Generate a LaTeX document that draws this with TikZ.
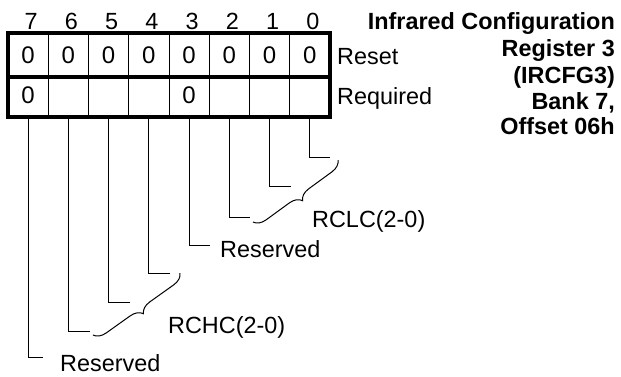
\documentclass[tikz,border=0pt]{standalone}
\usepackage{fontspec}
\setmainfont{Liberation Sans}
\usetikzlibrary{decorations.pathreplacing}
\begin{document}
\begin{tikzpicture}[x=1pt,y=-1pt,
  lbl/.style={font=\fontsize{23.4}{26}\selectfont, inner sep=0pt, anchor=base west},
  ttl/.style={font=\fontsize{23.4}{26}\selectfont\bfseries, inner sep=0pt, anchor=base east},
  bitnum/.style={font=\fontsize{23.4}{26}\selectfont, inner sep=0pt, anchor=base},
  cellbox/.style={minimum width=40.25pt, inner sep=0pt, outer sep=0pt, draw, line width=1pt, font=\fontsize{24}{26}\selectfont},
  toprow/.style={cellbox, minimum height=44pt},
  botrow/.style={cellbox, minimum height=40pt},
  thick border/.style={line width=3.5pt},
  lead/.style={line width=1pt},
  brc/.style={decorate, decoration={brace, amplitude=12pt}, line width=1pt}
]
\useasboundingbox (0,0) rectangle (621,376);
% cells
\foreach \i in {0,...,7}{
  \pgfmathsetmacro{\xc}{28.125+40.25*(7-\i)}
  \node[toprow] (t\i) at (\xc,55) {0};
  \node[bitnum] (n\i) at (\xc+3,29.5) {\i};
}
\node[botrow] (b7) at (28.125,97) {\raisebox{3pt}{0}};
\node[botrow] (b6) at (68.375,97) {};
\node[botrow] (b5) at (108.625,97) {};
\node[botrow] (b4) at (148.875,97) {};
\node[botrow] (b3) at (189.125,97) {\raisebox{3pt}{0}};
\node[botrow] (b2) at (229.375,97) {};
\node[botrow] (b1) at (269.625,97) {};
\node[botrow] (b0) at (309.875,97) {};
\draw[thick border] (t7.north west) rectangle (b0.south east);
\draw[thick border] (t7.south west) -- (t0.south east);
% row labels
\node[lbl] (reset) at (337,64.5) {Reset};
\node[lbl] (req) at (337,104.5) {Required};
% title
\node[ttl] (ttl1) at (615,29) {Infrared Configuration};
\node[ttl] (ttl2) at (615,56) {Register 3};
\node[ttl] (ttl3) at (615,83) {(IRCFG3)};
\node[ttl] (ttl4) at (615,109) {Bank 7,};
\node[ttl] (ttl5) at (615,134) {Offset 06h};
% leader ends
\coordinate (e0) at (330,157);
\coordinate (e1) at (291,186);
\coordinate (e2) at (250,217);
\coordinate (e3) at (210,245);
\coordinate (e4) at (170,273);
\coordinate (e5) at (130,302);
\coordinate (e6) at (90,331);
\coordinate (e7) at (43,357);
\foreach \i in {0,...,7}{ \draw[lead] (b\i.south) |- (e\i); }
% braces
\coordinate (lcA) at (253,222);
\coordinate (lcB) at (338,160);
\coordinate (hcA) at (93,335);
\coordinate (hcB) at (180,273);
\draw[brc] (lcB) -- (lcA);
\draw[brc] (hcB) -- (hcA);
% field labels
\node[lbl] (res3) at (220,257) {Reserved};
\node[lbl] (rclc) at (312,227) {RCLC(2-0)};
\node[lbl] (rchc) at (168,333) {RCHC(2-0)};
\node[lbl] (res7) at (60,371) {Reserved};
\end{tikzpicture}
\end{document}
